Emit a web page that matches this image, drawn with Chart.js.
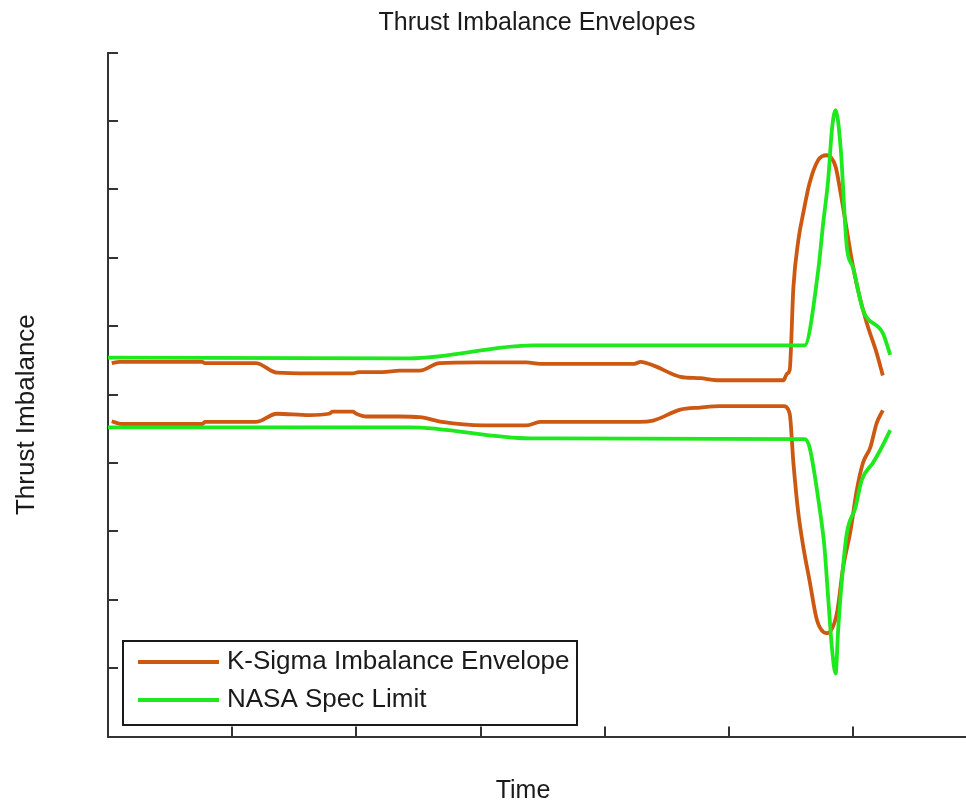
<!DOCTYPE html>
<html>
<head>
<meta charset="utf-8">
<title>Thrust Imbalance Envelopes</title>
<script src="https://cdn.jsdelivr.net/npm/chart.js@4.4.1/dist/chart.umd.min.js"></script>
<style>
  html, body { margin: 0; padding: 0; background: #fff; }
  #wrap { width: 966px; height: 806px; }
</style>
</head>
<body>
<div id="wrap"><canvas id="thrustChart" width="966" height="806"></canvas></div>
<script>
// Values (tick labels were blanked out there,
// so time and imbalance are in plain axis units)
const kSigmaUpperTime = [0.3, 0.9, 7.6, 7.8, 11.9, 13.6, 16.2, 19.7, 20.2, 22.1, 23.5, 25.1, 26.7, 29.9, 33.7, 34.8, 42.4, 42.9, 44.0, 46.1, 47.7, 49.0, 54.4, 54.7, 54.9, 55.2, 55.6, 56.0, 56.5, 57.2, 57.9, 58.6, 59.0, 59.5, 59.9, 60.4, 61.1, 61.9, 62.4];
const kSigmaUpper = [4.6, 4.8, 4.8, 4.6, 4.6, 3.2, 3.1, 3.1, 3.3, 3.3, 3.5, 3.5, 4.6, 4.7, 4.7, 4.5, 4.5, 4.8, 4.2, 2.6, 2.4, 2.1, 2.1, 3.1, 3.6, 15.7, 22.6, 26.6, 30.9, 34.3, 35.0, 33.3, 29.5, 24.1, 19.7, 15.3, 10.5, 6.1, 2.8];

const kSigmaLowerTime = [0.3, 1.1, 7.6, 7.8, 11.9, 13.6, 16.2, 17.8, 18.1, 19.7, 20.0, 20.8, 23.5, 25.1, 26.9, 30.2, 33.7, 34.8, 42.8, 43.9, 46.1, 47.7, 49.3, 54.4, 54.9, 55.2, 55.6, 56.0, 56.5, 57.1, 57.9, 58.7, 59.2, 59.8, 60.3, 60.8, 61.4, 61.9, 62.4];
const kSigmaLower = [-3.9, -4.3, -4.3, -4.0, -4.0, -2.8, -3.0, -2.8, -2.5, -2.5, -2.8, -3.2, -3.2, -3.3, -4.0, -4.5, -4.5, -4.0, -4.0, -3.8, -2.2, -1.9, -1.7, -1.7, -2.8, -10.0, -17.4, -22.3, -27.2, -33.0, -34.9, -32.0, -25.3, -19.9, -14.0, -10.0, -7.7, -4.2, -2.3];

const specUpperTime = [0, 24.3, 34.2, 56.1, 57.2, 57.6, 58.0, 58.3, 58.6, 59.0, 59.5, 60.0, 60.8, 62.4, 63.0];
const specUpper = [5.4, 5.3, 7.2, 7.2, 18.2, 25.1, 31.4, 38.7, 41.6, 36.2, 21.6, 18.6, 12.4, 9.0, 5.8];

const specLowerTime = [0, 24.3, 34.0, 56.1, 56.5, 57.3, 57.7, 58.0, 58.3, 58.6, 58.8, 59.1, 59.5, 60.2, 60.7, 61.6, 62.2, 63.0];
const specLower = [-4.8, -4.8, -6.4, -6.5, -7.7, -16.5, -22.3, -29.7, -37.0, -40.8, -34.5, -27.2, -20.3, -16.5, -12.5, -10.0, -8.1, -5.2];

const FONT = "'Liberation Sans', Arial, sans-serif";
const AXIS_COLOR = '#333333';
const TEXT_COLOR = '#1a1a1a';
const KSIGMA_COLOR = '#cc5812';
const SPEC_COLOR = '#1ee81e';

const toPoints = (xs, ys) => xs.map((x, i) => ({ x: x, y: ys[i] }));

// legend box sits inside the plot, lower left corner
const insetLegend = {
  id: 'insetLegend',
  afterDraw(chart) {
    const ctx = chart.ctx;
    const area = chart.chartArea;
    const items = chart.data.datasets.filter(ds => ds.legendLabel);
    const box = { x: area.left + 15, y: area.bottom - 95.5, w: 454, h: 84 };

    ctx.save();
    ctx.fillStyle = '#ffffff';
    ctx.fillRect(box.x, box.y, box.w, box.h);
    ctx.strokeStyle = '#1a1a1a';
    ctx.lineWidth = 2;
    ctx.strokeRect(box.x, box.y, box.w, box.h);

    ctx.font = '26px ' + FONT;
    ctx.textBaseline = 'middle';
    ctx.textAlign = 'left';
    items.forEach((ds, i) => {
      const y = box.y + 21 + i * 38;
      ctx.strokeStyle = ds.borderColor;
      ctx.lineWidth = 4;
      ctx.beginPath();
      ctx.moveTo(box.x + 15, y);
      ctx.lineTo(box.x + 96, y);
      ctx.stroke();
      ctx.fillStyle = TEXT_COLOR;
      ctx.fillText(ds.legendLabel, box.x + 104, y);
    });
    ctx.restore();
  }
};

// axis titles sit a bit off-centre in the original, so draw them by hand
const axisTitles = {
  id: 'axisTitles',
  afterDraw(chart) {
    const ctx = chart.ctx;
    const a = chart.chartArea;
    const scales = chart.options.scales;
    ctx.save();
    ctx.fillStyle = TEXT_COLOR;
    ctx.textAlign = 'center';
    ctx.textBaseline = 'middle';
    ctx.font = '25px ' + FONT;
    ctx.fillText(scales.x.title.text, (a.left + a.right) / 2 - 14, a.bottom + 54.5);
    ctx.translate(a.left - 81, (a.top + a.bottom) / 2 + 20);
    ctx.rotate(-Math.PI / 2);
    ctx.font = '26px ' + FONT;
    ctx.fillText(scales.y.title.text, 0, 0);
    ctx.restore();
  }
};

const axisGrid = {
  drawOnChartArea: false,
  drawTicks: true,
  tickLength: -10, // ticks point into the plot
  lineWidth: 2,
  color: c => (c.tick && c.tick.value % 10 !== 0) ? 'rgba(0,0,0,0)' : AXIS_COLOR
};

new Chart(document.getElementById('thrustChart'), {
  type: 'line',
  data: {
    datasets: [
      {
        legendLabel: 'K-Sigma Imbalance Envelope',
        data: toPoints(kSigmaUpperTime, kSigmaUpper),
        borderColor: KSIGMA_COLOR,
        order: 1
      },
      {
        data: toPoints(kSigmaLowerTime, kSigmaLower),
        borderColor: KSIGMA_COLOR,
        order: 1
      },
      {
        legendLabel: 'NASA Spec Limit',
        data: toPoints(specUpperTime, specUpper),
        borderColor: SPEC_COLOR,
        order: 0
      },
      {
        data: toPoints(specLowerTime, specLower),
        borderColor: SPEC_COLOR,
        order: 0
      }
    ]
  },
  options: {
    responsive: false,
    animation: false,
    events: [],
    datasets: {
      line: {
        borderWidth: 3.8,
        pointRadius: 0,
        fill: false,
        cubicInterpolationMode: 'monotone'
      }
    },
    layout: { padding: 0 },
    plugins: {
      legend: { display: false },
      tooltip: { enabled: false },
      title: {
        display: true,
        fullSize: false,
        text: 'Thrust Imbalance Envelopes',
        color: TEXT_COLOR,
        font: { family: FONT, size: 25, weight: 'normal' },
        padding: { top: 8, bottom: 14.7 }
      }
    },
    scales: {
      x: {
        type: 'linear',
        min: 0,
        max: 69.1,
        ticks: { display: false, stepSize: 10 },
        grid: axisGrid,
        border: { display: true, color: AXIS_COLOR, width: 2 },
        title: { display: false, text: 'Time' },
        afterFit(scale) { scale.height = 69.5; }
      },
      y: {
        type: 'linear',
        min: -50,
        max: 50,
        ticks: { display: false, stepSize: 10 },
        grid: axisGrid,
        border: { display: true, color: AXIS_COLOR, width: 2 },
        title: { display: false, text: 'Thrust Imbalance' },
        afterFit(scale) { scale.width = 108; }
      }
    }
  },
  plugins: [insetLegend, axisTitles]
});
</script>
</body>
</html>
